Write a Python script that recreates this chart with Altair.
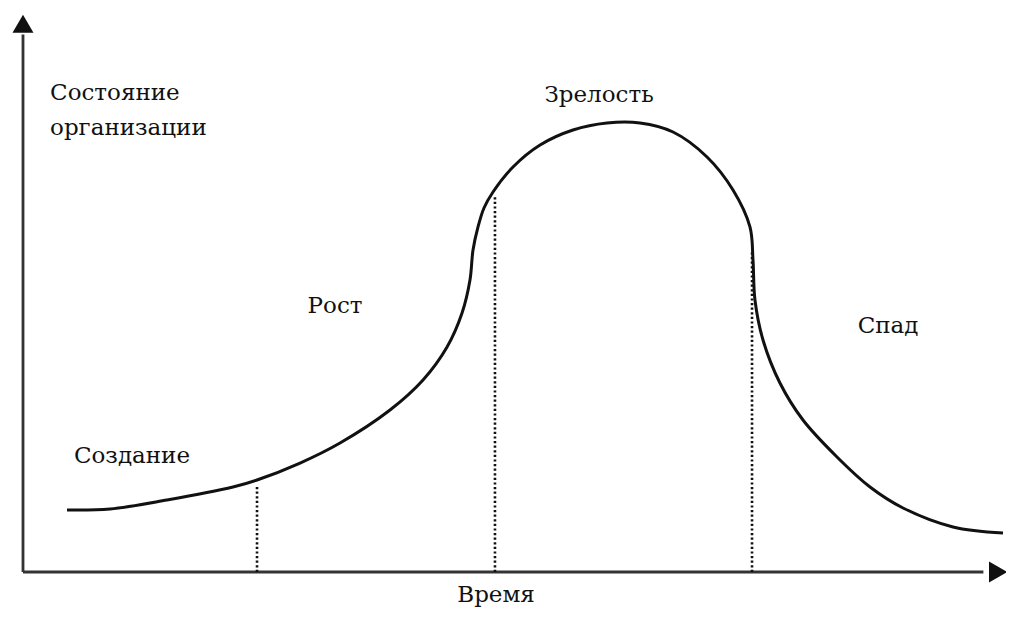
import altair as alt
import pandas as pd

# ---- data (time / organisation state, arbitrary units 0..100) ----
curve_time = [4.49, 8.88, 14.69, 21.43, 23.88, 28.27, 32.35, 37.45, 40.82, 43.27, 44.80,
              45.61, 45.92, 46.43, 47.04, 47.96, 50.0, 52.76, 56.12, 59.59, 62.96, 66.33,
              69.80, 72.45, 74.18, 74.49, 74.69, 75.51, 77.24, 79.59, 83.06, 86.43,
              89.80, 94.90, 100.0]
curve_state = [11.07, 11.25, 12.86, 15.18, 16.43, 19.46, 23.04, 28.93, 34.29, 40.18, 46.25,
               52.14, 57.50, 61.61, 65.0, 67.86, 72.32, 76.25, 78.93, 80.18, 80.18, 78.57,
               74.11, 68.21, 61.61, 55.71, 48.57, 41.43, 33.75, 27.14, 20.54, 15.18,
               11.43, 8.04, 6.96]

boundary_time = [23.88, 48.16, 74.39]
boundary_top = [15.2, 67.3, 57.5]

label_text = ["Состояние", "организации", "Зрелость", "Рост", "Спад", "Создание", "Время"]
label_time = [2.76, 2.76, 58.78, 31.84, 88.27, 11.12, 48.27]
label_state = [84.29, 78.04, 83.93, 46.25, 42.68, 19.46, -5.4]
label_align = ["left", "left", "center", "center", "center", "center", "center"]

axis_time_end = 98.0
axis_state_end = 96.0
arrow_time = 99.5
arrow_state = 97.9

# ---- tables ----
curve_df = pd.DataFrame({"t": curve_time, "s": curve_state, "o": range(len(curve_time))})
bound_df = pd.DataFrame({"t": boundary_time, "s0": [0] * 3, "s1": boundary_top})
lab_df = pd.DataFrame({"text": label_text, "t": label_time, "s": label_state, "align": label_align})
xaxis_df = pd.DataFrame({"t0": [0.0], "t1": [axis_time_end], "s": [0.0]})
yaxis_df = pd.DataFrame({"s0": [0.0], "s1": [axis_state_end], "t": [0.0]})
xarrow_df = pd.DataFrame({"t": [arrow_time], "s": [0.0]})
yarrow_df = pd.DataFrame({"t": [0.0], "s": [arrow_state]})

X = alt.Scale(domain=[-1.5306, 100.306], nice=False, zero=False)
Y = alt.Scale(domain=[-6.964, 100.714], nice=False, zero=False)
noax = None

def xenc(field):
    return alt.X(field, type="quantitative", scale=X, axis=noax)

def yenc(field):
    return alt.Y(field, type="quantitative", scale=Y, axis=noax)

curve = alt.Chart(curve_df).mark_line(
    color="#111111", strokeWidth=3, interpolate="catmull-rom"
).encode(x=xenc("t"), y=yenc("s"), order="o:Q")

bounds = alt.Chart(bound_df).mark_rule(
    color="#111111", strokeWidth=2.6, strokeDash=[2.2, 2.4]
).encode(x=xenc("t"), y=yenc("s0"), y2="s1:Q")

xaxis = alt.Chart(xaxis_df).mark_rule(color="#333333", strokeWidth=2.8).encode(
    x=xenc("t0"), x2="t1:Q", y=yenc("s"))
yaxis = alt.Chart(yaxis_df).mark_rule(color="#333333", strokeWidth=2.8).encode(
    y=yenc("s0"), y2="s1:Q", x=xenc("t"))

xarrow = alt.Chart(xarrow_df).mark_point(
    shape="triangle-right", filled=True, size=440, color="#111111", opacity=1
).encode(x=xenc("t"), y=yenc("s"))
yarrow = alt.Chart(yarrow_df).mark_point(
    shape="triangle-up", filled=True, size=440, color="#111111", opacity=1
).encode(x=xenc("t"), y=yenc("s"))

texts = []
for al in ["left", "center"]:
    texts.append(
        alt.Chart(lab_df[lab_df["align"] == al]).mark_text(
            font="DejaVu Serif", fontSize=23, color="#111111", align=al,
            baseline="alphabetic"
        ).encode(x=xenc("t"), y=yenc("s"), text="text:N")
    )

chart = alt.layer(xaxis, yaxis, bounds, curve, xarrow, yarrow, *texts).properties(
    width=998, height=603, padding=0,
    autosize=alt.AutoSizeParams(type="none"),
    view=alt.ViewBackground(stroke=None, strokeOpacity=0, fill="white"),
).configure_view(stroke=None, strokeOpacity=0, strokeWidth=0).configure(background="white")

chart.save("out.html", embed_options={"renderer": "svg", "actions": False})
